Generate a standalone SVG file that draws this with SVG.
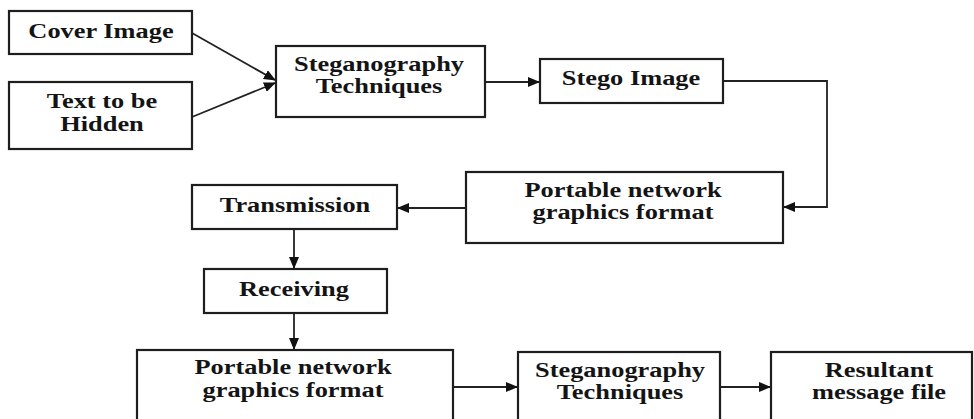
<svg xmlns="http://www.w3.org/2000/svg" width="974" height="419" viewBox="0 0 974 419">
<defs>
<marker id="ah" markerUnits="userSpaceOnUse" markerWidth="12" markerHeight="10" refX="11" refY="5" orient="auto">
<path d="M0,0 L12,5 L0,10 Z" fill="#111"/>
</marker>
<style>
.box{fill:#fff;stroke:#1e1e1e;stroke-width:2.2}
.t{font-family:"Liberation Serif","Times New Roman",serif;font-weight:bold;font-size:20px;fill:#141414;text-anchor:middle}
.c{fill:none;stroke:#222;stroke-width:1.8}
</style>
</defs>
<rect width="974" height="419" fill="#fff"/>
<g id="connectors">
<line class="c" x1="192" y1="33" x2="275" y2="80" marker-end="url(#ah)"/>
<line class="c" x1="192" y1="117" x2="275" y2="83" marker-end="url(#ah)"/>
<line class="c" x1="485" y1="82" x2="539" y2="82" marker-end="url(#ah)"/>
<polyline class="c" points="723,81 827,81 827,207 784,207" marker-end="url(#ah)"/>
<line class="c" x1="466" y1="208" x2="398" y2="208" marker-end="url(#ah)"/>
<line class="c" x1="294" y1="229" x2="294" y2="268" marker-end="url(#ah)"/>
<line class="c" x1="294" y1="313" x2="294" y2="349" marker-end="url(#ah)"/>
<line class="c" x1="453" y1="387" x2="517" y2="387" marker-end="url(#ah)"/>
<line class="c" x1="720" y1="387" x2="770" y2="387" marker-end="url(#ah)"/>
</g>
<g id="cover"><rect class="box" x="9" y="11" width="183" height="43"/><text class="t" transform="translate(101,38) scale(1.32,1)">Cover Image</text></g>
<g id="text"><rect class="box" x="9" y="82" width="183" height="67"/><text class="t" transform="translate(102,108) scale(1.32,1)">Text to be</text><text class="t" transform="translate(102,131) scale(1.32,1)">Hidden</text></g>
<g id="steg1"><rect class="box" x="276" y="46" width="209" height="71"/><text class="t" transform="translate(379,71) scale(1.32,1)">Steganography</text><text class="t" transform="translate(379,93) scale(1.32,1)">Techniques</text></g>
<g id="stego"><rect class="box" x="540" y="59" width="183" height="44"/><text class="t" transform="translate(631,85) scale(1.32,1)">Stego Image</text></g>
<g id="png1"><rect class="box" x="466" y="172" width="317" height="71"/><text class="t" transform="translate(623,197) scale(1.32,1)">Portable network</text><text class="t" transform="translate(623,219) scale(1.32,1)">graphics format</text></g>
<g id="trans"><rect class="box" x="192" y="185" width="205" height="44"/><text class="t" transform="translate(295,212) scale(1.32,1)">Transmission</text></g>
<g id="recv"><rect class="box" x="204" y="269" width="183" height="44"/><text class="t" transform="translate(294,296) scale(1.32,1)">Receiving</text></g>
<g id="png2"><rect class="box" x="137" y="350" width="316" height="80"/><text class="t" transform="translate(293,374) scale(1.32,1)">Portable network</text><text class="t" transform="translate(293,397) scale(1.32,1)">graphics format</text></g>
<g id="steg2"><rect class="box" x="518" y="352" width="202" height="80"/><text class="t" transform="translate(620,377) scale(1.32,1)">Steganography</text><text class="t" transform="translate(620,399) scale(1.32,1)">Techniques</text></g>
<g id="result"><rect class="box" x="771" y="352" width="201" height="80"/><text class="t" transform="translate(879,377) scale(1.32,1)">Resultant</text><text class="t" transform="translate(879,399) scale(1.32,1)">message file</text></g>
</svg>
